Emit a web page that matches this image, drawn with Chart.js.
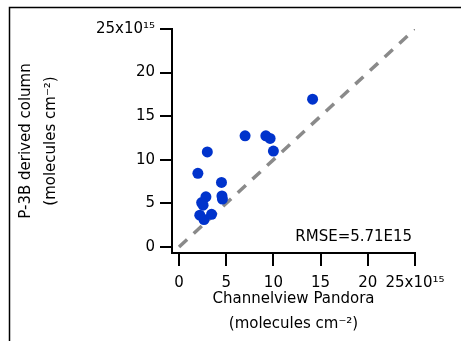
<!DOCTYPE html>
<html>
<head>
<meta charset="utf-8">
<script src="https://cdn.jsdelivr.net/npm/chart.js@4/dist/chart.umd.min.js"></script>
<style>
  body { margin: 0; background: #fff; }
  canvas { display: block; }
</style>
</head>
<body>
<canvas id="scatter-chart" width="461" height="341"></canvas>
<script>
// Channelview Pandora vs P-3B derived column (x10^15 molecules cm-2)
const pandoraCol = [14.15, 7.0, 9.2, 9.65, 10.0, 3.0, 2.0, 4.5, 4.55, 4.6, 2.85, 2.4, 2.55, 2.2, 2.65, 3.45];
const p3bCol     = [16.95, 12.75, 12.75, 12.45, 11.0, 10.9, 8.45, 7.4, 5.85, 5.5, 5.75, 5.1, 4.8, 3.65, 3.15, 3.75];
const oneToOne = [0, 25];

const tickValues = [0, 5, 10, 15, 20, 25];
const tickLabels = ['0', '5', '10', '15', '20', '25x10\u00b9\u2075'];
const rmseText = 'RMSE=5.71E15';

const fontFamily = "'DejaVu Sans', sans-serif";

const framePlugin = {
    id: 'frame',
    beforeDraw(chart) {
        const ctx = chart.ctx;
        ctx.save();
        ctx.fillStyle = '#fff';
        ctx.fillRect(0, 0, chart.width, chart.height);
        ctx.strokeStyle = '#000';
        ctx.lineWidth = 1.5;
        ctx.strokeRect(9.5, 7.5, 1000, 1000);
        ctx.restore();
    },
    afterDatasetsDraw(chart) {
        const ctx = chart.ctx;
        const xs = chart.scales.x, ys = chart.scales.y;
        ctx.save();
        ctx.font = '15px ' + fontFamily;
        ctx.fillStyle = '#000';
        ctx.textAlign = 'right';
        ctx.textBaseline = 'middle';
        ctx.fillText(rmseText, xs.getPixelForValue(24.7), ys.getPixelForValue(1.15));
        ctx.restore();
    }
};

function makeData() {
    const pts = [];
    for (let i = 0; i < pandoraCol.length; i++) {
        pts.push({ x: pandoraCol[i], y: p3bCol[i] });
    }
    return {
        datasets: [{
            type: 'scatter',
            data: pts,
            backgroundColor: '#0033cc',
            borderWidth: 0,
            pointRadius: 5.5,
            order: 0
        }, {
            type: 'line',
            data: oneToOne.map(v => ({ x: v, y: v })),
            borderColor: '#8a8a8a',
            borderWidth: 3.5,
            borderDash: [11, 9],
            pointRadius: 0,
            fill: false,
            order: 1
        }]
    };
}

const font = { family: fontFamily, size: 15 };
const titleFont = { family: fontFamily, size: 15, lineHeight: 1.65 };

new Chart(document.getElementById('scatter-chart').getContext('2d'), {
    type: 'scatter',
    data: makeData(),
    plugins: [framePlugin],
    options: {
        responsive: false,
        animation: false,
        layout: { padding: { left: 14, top: 29, right: 46, bottom: 0 } },
        plugins: { legend: { display: false }, tooltip: { enabled: false } },
        scales: {
            x: {
                type: 'linear',
                min: -0.742,
                max: 25,
                afterBuildTicks: s => { s.ticks = tickValues.map(v => ({ value: v })); },
                afterFit: s => { s.height = 88; },
                border: { color: '#000', width: 2 },
                grid: { drawOnChartArea: false, tickLength: 13, color: '#000', lineWidth: 2 },
                ticks: {
                    callback: (v, i) => tickLabels[i],
                    font: font, color: '#000', padding: 8,
                    maxRotation: 0, autoSkip: false
                },
                title: {
                    display: true,
                    text: ['Channelview Pandora', '(molecules cm\u207b\u00b2)'],
                    font: titleFont, color: '#000', padding: { top: 0, bottom: 5 }
                }
            },
            y: {
                type: 'linear',
                min: -0.688,
                max: 25,
                afterBuildTicks: s => { s.ticks = tickValues.map(v => ({ value: v })); },
                afterFit: s => { s.width = 158; },
                border: { color: '#000', width: 2 },
                grid: { drawOnChartArea: false, tickLength: 12, color: '#000', lineWidth: 2 },
                ticks: {
                    callback: (v, i) => tickLabels[i],
                    font: font, color: '#000', padding: 5, autoSkip: false
                },
                title: {
                    display: true,
                    text: ['P-3B derived column', '(molecules cm\u207b\u00b2)'],
                    font: titleFont, color: '#000', padding: 0
                }
            }
        }
    }
});
</script>
</body>
</html>
